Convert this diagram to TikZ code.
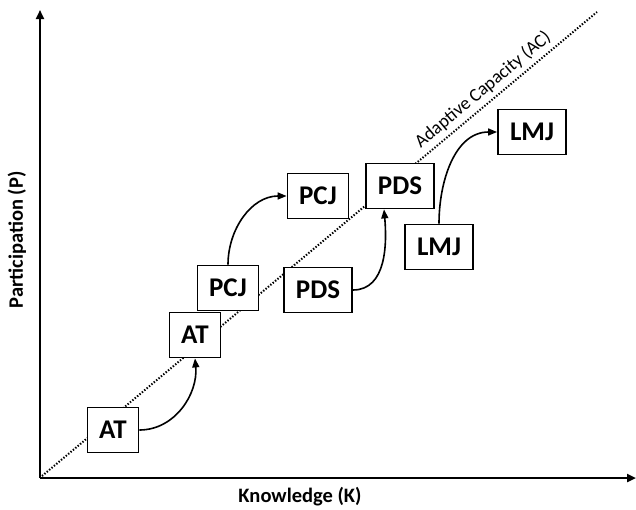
\documentclass[tikz,border=0pt]{standalone}
\usepackage{fontspec}
\setmainfont{Carlito}
\usetikzlibrary{arrows.meta}
\begin{document}
\begin{tikzpicture}[x=1pt,y=-1pt,
    stagebox/.style={draw,line width=1.8pt,fill=white,minimum height=45pt,inner xsep=6pt,font=\bfseries\fontsize{27}{27}\selectfont},
    jump/.style={-{Triangle[length=9pt,width=7pt]},line width=1.6pt},
    axislabel/.style={font=\bfseries\fontsize{20.5}{20.5}\selectfont}]
        \useasboundingbox (0,0) rectangle (636,509);
        % axes and adaptive capacity line
        \coordinate (o) at (40,478);
        \coordinate (ytop) at (40,10);
        \coordinate (xend) at (636,478);
        \coordinate (acstart) at (42,476);
        \coordinate (acend) at (597,12);
        \draw[line width=2pt,dash pattern=on 1.4pt off 1.7pt] (acstart) -- (acend)
            node[pos=0.81,sloped,above=1pt,font=\fontsize{18.5}{18.5}\selectfont] (aclabel) {Adaptive Capacity (AC)};
        \draw[line width=2.2pt,-{Triangle[length=9pt,width=8pt]}] (o) -- (ytop);
        \draw[line width=2.2pt,-{Triangle[length=9pt,width=8pt]}] (o) -- (xend);
        \node[axislabel] (klabel) at (300,497) {Knowledge (K)};
        \node[axislabel,rotate=90] (plabel) at (17,240) {Participation (P)};
        % stages
        \node[stagebox,minimum width=51pt] (at1) at (113,430) {AT};
        \node[stagebox,minimum width=51pt] (at2) at (195,335) {AT};
        \node[stagebox,minimum width=61pt] (pcj1) at (228,288) {PCJ};
        \node[stagebox,minimum width=61pt] (pcj2) at (318,196) {PCJ};
        \node[stagebox,minimum width=68pt] (pds1) at (318,290) {PDS};
        \node[stagebox,minimum width=68pt] (pds2) at (400,186) {PDS};
        \node[stagebox,minimum width=68pt] (lmj1) at (439,247) {LMJ};
        \node[stagebox,minimum width=68pt] (lmj2) at (532,132) {LMJ};
        % jumps
        \draw[jump] (at1.east) to[out=0,in=-85] (at2.south);
        \draw[jump] (pcj1.north) to[out=90,in=180] (pcj2.west);
        \draw[jump] (pds1.east) to[out=0,in=-85] ([xshift=-16pt]pds2.south);
        \draw[jump] (lmj1.north) to[out=90,in=180] (lmj2.west);
    \end{tikzpicture}
\end{document}
